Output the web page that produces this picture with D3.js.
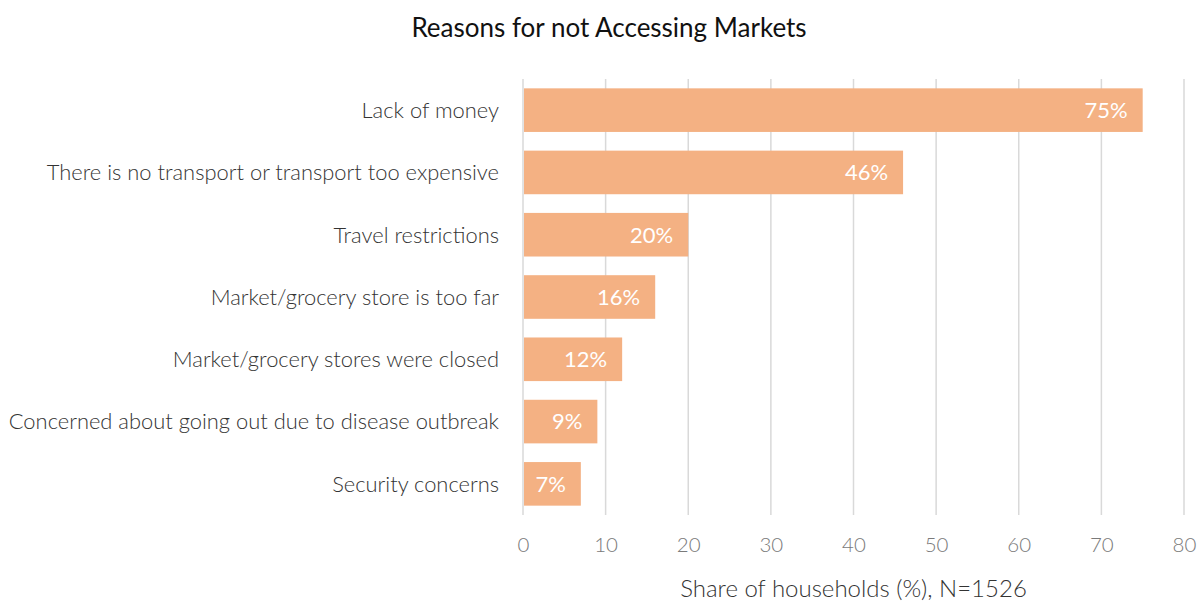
<!DOCTYPE html>
<html>
<head>
<meta charset="utf-8">
<script src="https://cdn.jsdelivr.net/npm/d3@7"></script>
<style>
  html, body { margin: 0; padding: 0; background: #fff; }
  svg { display: block; font-family: Lato, "Open Sans", sans-serif; font-weight: 300; }
</style>
</head>
<body>
<svg id="chart" width="1198" height="604"></svg>
<script>
// Reasons households gave for not accessing markets (share of households, %)
const categories = [
  "Lack of money",
  "There is no transport or transport too expensive",
  "Travel restrictions",
  "Market/grocery store is too far",
  "Market/grocery stores were closed",
  "Concerned about going out due to disease outbreak",
  "Security concerns"
];
const shares = [75, 46, 20, 16, 12, 9, 7];
const xTicks = [0, 10, 20, 30, 40, 50, 60, 70, 80];
const titleText = "Reasons for not Accessing Markets";
const xTitle = "Share of households (%), N=1526";

const svg = d3.select("#chart");
const margin = { left: 523, right: 14, top: 79, bottom: 89 };
const W = 1198, H = 604;

const x = d3.scaleLinear().domain([0, 80]).range([margin.left, W - margin.right]);
const y = d3.scaleBand().domain(categories).range([margin.top, H - margin.bottom]).paddingInner(0.3).paddingOuter(0.15);

// Vertical gridlines
svg.append("g").selectAll("line").data(xTicks).join("line")
  .attr("x1", d => x(d)).attr("x2", d => x(d))
  .attr("y1", margin.top).attr("y2", H - margin.bottom)
  .attr("stroke", "#d9d9d9").attr("stroke-width", 1.5);

// Bars
const data = categories.map((c, i) => ({ c, v: shares[i] }));
svg.append("g").selectAll("rect").data(data).join("rect")
  .attr("x", x(0) + 1)
  .attr("y", d => y(d.c))
  .attr("width", d => x(d.v) - x(0) - 1)
  .attr("height", y.bandwidth())
  .attr("fill", "#f4b183");

// Value labels inside bars
svg.append("g").selectAll("text").data(data).join("text")
  .attr("x", d => x(d.v) - 15)
  .attr("y", d => y(d.c) + y.bandwidth() / 2)
  .attr("dy", "0.36em")
  .attr("text-anchor", "end")
  .attr("fill", "#fff")
  .attr("font-size", 22)
  .attr("font-weight", 400)
  .text(d => d.v + "%");

// Category labels
svg.append("g").selectAll("text").data(categories).join("text")
  .attr("x", margin.left - 24)
  .attr("y", d => y(d) + y.bandwidth() / 2)
  .attr("dy", "0.36em")
  .attr("text-anchor", "end")
  .attr("fill", "#333")
  .attr("font-size", 21.9)
  .text(d => d);

// X axis tick labels
const xAxis = d3.axisBottom(x).tickValues(xTicks).tickSize(0).tickPadding(0);
const gx = svg.append("g").attr("transform", `translate(0,${H - margin.bottom + 22})`).call(xAxis);
gx.select(".domain").remove();
gx.selectAll("text").attr("fill", "#7a7a7a").attr("font-size", 20.5)
  .attr("font-family", "Lato, 'Open Sans', sans-serif").attr("font-weight", 300);

// Axis title
svg.append("text")
  .attr("x", (x(0) + x(80)) / 2)
  .attr("y", 597)
  .attr("text-anchor", "middle")
  .attr("fill", "#333")
  .attr("font-size", 24)
  .text(xTitle);

// Chart title
svg.append("text")
  .attr("x", 609)
  .attr("y", 37)
  .attr("text-anchor", "middle")
  .attr("fill", "#111")
  .attr("font-size", 26)
  .attr("font-weight", 400)
  .text(titleText);
</script>
</body>
</html>
